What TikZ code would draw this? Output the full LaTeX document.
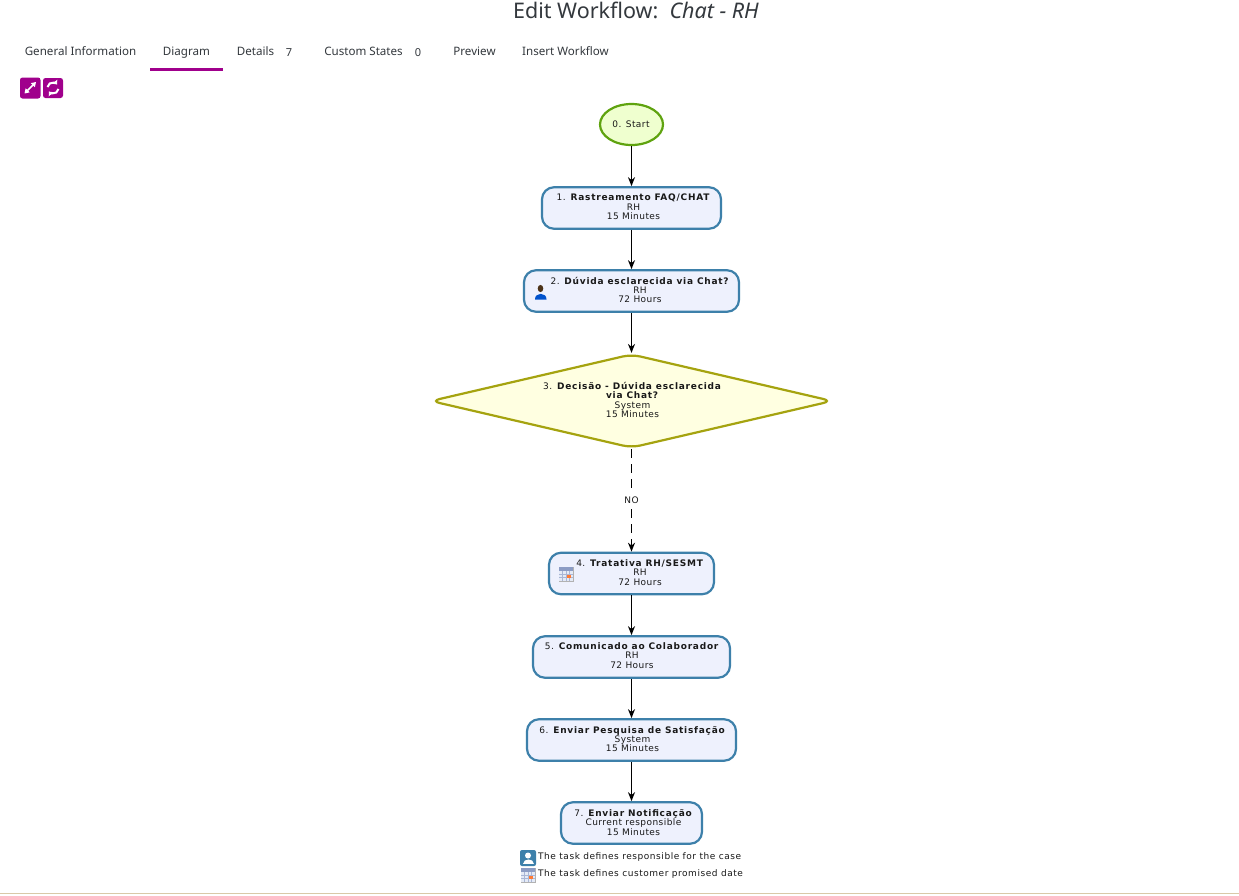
\documentclass[tikz,border=0pt]{standalone}
\usepackage{fontspec}
\setmainfont{Noto Sans}
\newfontfamily\diagfont[LetterSpace=5,BoldFeatures={LetterSpace=8.5}]{DejaVu Sans}
\newfontfamily\legendfont[LetterSpace=6]{DejaVu Sans}
\usetikzlibrary{shapes.geometric,arrows.meta}
\definecolor{purplebtn}{HTML}{A0008C}
\definecolor{taskline}{HTML}{3D80AA}
\definecolor{taskfill}{HTML}{EEF1FD}
\definecolor{startline}{HTML}{5FA30F}
\definecolor{startfill}{HTML}{EFFFCF}
\definecolor{gateline}{HTML}{A5A30F}
\definecolor{gatefill}{HTML}{FFFFE1}
\definecolor{tabtext}{HTML}{33383D}
\definecolor{calgrid}{HTML}{A9B6D6}
\definecolor{calband}{HTML}{8C9CC4}
\definecolor{calcell}{HTML}{E4EAF6}
\definecolor{footline}{HTML}{D9C9A8}
\tikzset{
  startbox/.style={ellipse, draw=startline, fill=startfill, line width=2.2pt, minimum width=63pt, minimum height=41pt, inner sep=0pt},
  taskbox/.style={rectangle, rounded corners=12pt, draw=taskline, fill=taskfill, line width=2.2pt, minimum height=41.5pt, inner sep=0pt},
  gatebox/.style={diamond, rounded corners=9pt, draw=gateline, fill=gatefill, line width=2.2pt, minimum width=402pt, minimum height=94pt, inner sep=0pt},
  tasktext/.style={font=\diagfont\fontsize{9}{9.3}\selectfont, align=center, inner sep=0pt, text=black!90},
  tabitem/.style={font=\fontsize{11.6}{14}\selectfont, inner sep=0pt, anchor=base, text=tabtext},
  tabcount/.style={font=\bfseries\fontsize{11}{12}\selectfont, inner sep=0pt, anchor=base, text=tabtext},
  legendtext/.style={font=\legendfont\fontsize{9}{10}\selectfont, anchor=west, inner sep=0pt, text=black!90},
  flowline/.style={-{Stealth[length=9pt,width=7pt]}, line width=1.5pt, black},
  btnicon/.style={fill=purplebtn, rounded corners=2.5pt},
}
\newcommand{\calendaricon}[2]{%
  \begin{scope}[shift={(#1,#2)}]
    \fill[black!30] (-7.5,-7.5) rectangle (7.5,7.5);
    \fill[calband] (-7,-7) rectangle (7,-3);
    \fill[calcell] (-7,-3) rectangle (7,7);
    \foreach \gx in {-3.5,0,3.5} \draw[calgrid, line width=.7pt] (\gx,-3) -- (\gx,7);
    \foreach \gy in {0,3.5} \draw[calgrid, line width=.7pt] (-7,\gy) -- (7,\gy);
    \fill[orange!70!red!80] (1,1) rectangle (4.5,4);
  \end{scope}}
\begin{document}
\begin{tikzpicture}[x=1pt, y=-1pt]
\useasboundingbox (0,0) rectangle (1239,895);
\fill[white] (0,0) rectangle (1239,895);
% page head
\node (title) [font=\fontsize{21.5}{24}\selectfont, inner sep=0pt, text=tabtext] at (636, 10) {Edit Workflow:\ \ \textit{Chat - RH}};
\node (tab1) [tabitem] at (80.5, 55) {General Information};
\node (tab2) [tabitem] at (186.5, 55) {Diagram};
\node (tab3) [tabitem] at (255.5, 55) {Details};
\node (cnt3) [tabcount] at (289, 56) {7};
\node (tab4) [tabitem] at (363.5, 55) {Custom States};
\node (cnt4) [tabcount] at (418, 56) {0};
\node (tab5) [tabitem] at (474.5, 55) {Preview};
\node (tab6) [tabitem] at (565.5, 55) {Insert Workflow};
\fill[purplebtn] (150, 68) rectangle (223, 71);
% buttons
\fill[btnicon] (20, 77.5) rectangle (40.5, 98.5);
\draw[white, line width=1.6pt, {Triangle[length=4.5pt,width=5.5pt]}-{Triangle[length=4.5pt,width=5.5pt]}] (24.5, 93.5) -- (36, 82);
\fill[btnicon] (43, 78) rectangle (63, 98);
\draw[white, line width=2pt, -{Triangle[length=3.5pt,width=6pt]}] (47.5, 87) arc (190:320:5.5);
\draw[white, line width=2pt, -{Triangle[length=3.5pt,width=6pt]}] (58.5, 89) arc (10:140:5.5);
% flow shapes
\node (s0) [startbox] at (631.5, 124.5) {};
\node (t1) [taskbox, minimum width=179pt] at (631.5, 208) {};
\node (t2) [taskbox, minimum width=215pt] at (631.5, 291) {};
\node (d3) [gatebox] at (631.5, 401) {};
\node (t4) [taskbox, minimum width=165pt] at (631.5, 573.5) {};
\node (t5) [taskbox, minimum width=197pt] at (631.5, 657) {};
\node (t6) [taskbox, minimum width=209pt] at (631.5, 740) {};
\node (t7) [taskbox, minimum width=141pt] at (631.5, 823) {};
% labels of the shapes
\node (s0txt) [tasktext] at (631, 124) {0. Start};
\node (t1txt) [tasktext] at (633.5, 207) {1. \textbf{Rastreamento FAQ/CHAT}\\RH\\15 Minutes};
\node (t2txt) [tasktext] at (640, 290) {2. \textbf{Dúvida esclarecida via Chat?}\\RH\\72 Hours};
\node (d3txt) [tasktext] at (632.5, 400) {3. \textbf{Decisão - Dúvida esclarecida}\\\textbf{via Chat?}\\System\\15 Minutes};
\node (t4txt) [tasktext] at (640, 572.5) {4. \textbf{Tratativa RH/SESMT}\\RH\\72 Hours};
\node (t5txt) [tasktext] at (632, 655.5) {5. \textbf{Comunicado ao Colaborador}\\RH\\72 Hours};
\node (t6txt) [tasktext] at (632.5, 739) {6. \textbf{Enviar Pesquisa de Satisfação}\\System\\15 Minutes};
\node (t7txt) [tasktext] at (633.5, 822.5) {7. \textbf{Enviar Notificação}\\Current responsible\\15 Minutes};
% connectors
\draw [flowline] (s0) -- (t1);
\draw [flowline] (t1) -- (t2);
\draw [flowline] (t2) -- (d3);
\draw [flowline, dash pattern=on 9pt off 6pt] (d3) -- node (no) [tasktext, fill=white, inner sep=4pt] {NO} (t4);
\draw [flowline] (t4) -- (t5);
\draw [flowline] (t5) -- (t6);
\draw [flowline] (t6) -- (t7);
% person mark in task 2
\fill[blue!60!cyan!80!black] (535, 299.5) .. controls (534.5, 292) and (547, 292) .. (546.5, 299.5) -- cycle;
\fill[brown!40!black] (540.5, 288.5) ellipse (2.8 and 3.6);
% calendar marks
\calendaricon{566}{574}
\calendaricon{528}{875}
% legend
\fill[taskline, rounded corners=2pt] (520, 850) rectangle (536, 866);
\fill[white] (528, 855.5) circle (3);
\fill[white] (522.5, 864) .. controls (522.5, 858) and (533.5, 858) .. (533.5, 864) -- cycle;
\node (leg1) [legendtext] at (538, 857) {The task defines responsible for the case};
\node (leg2) [legendtext] at (538, 874) {The task defines customer promised date};
% bottom rule
\fill[footline] (0, 893) rectangle (1239, 894);
\end{tikzpicture}
\end{document}
